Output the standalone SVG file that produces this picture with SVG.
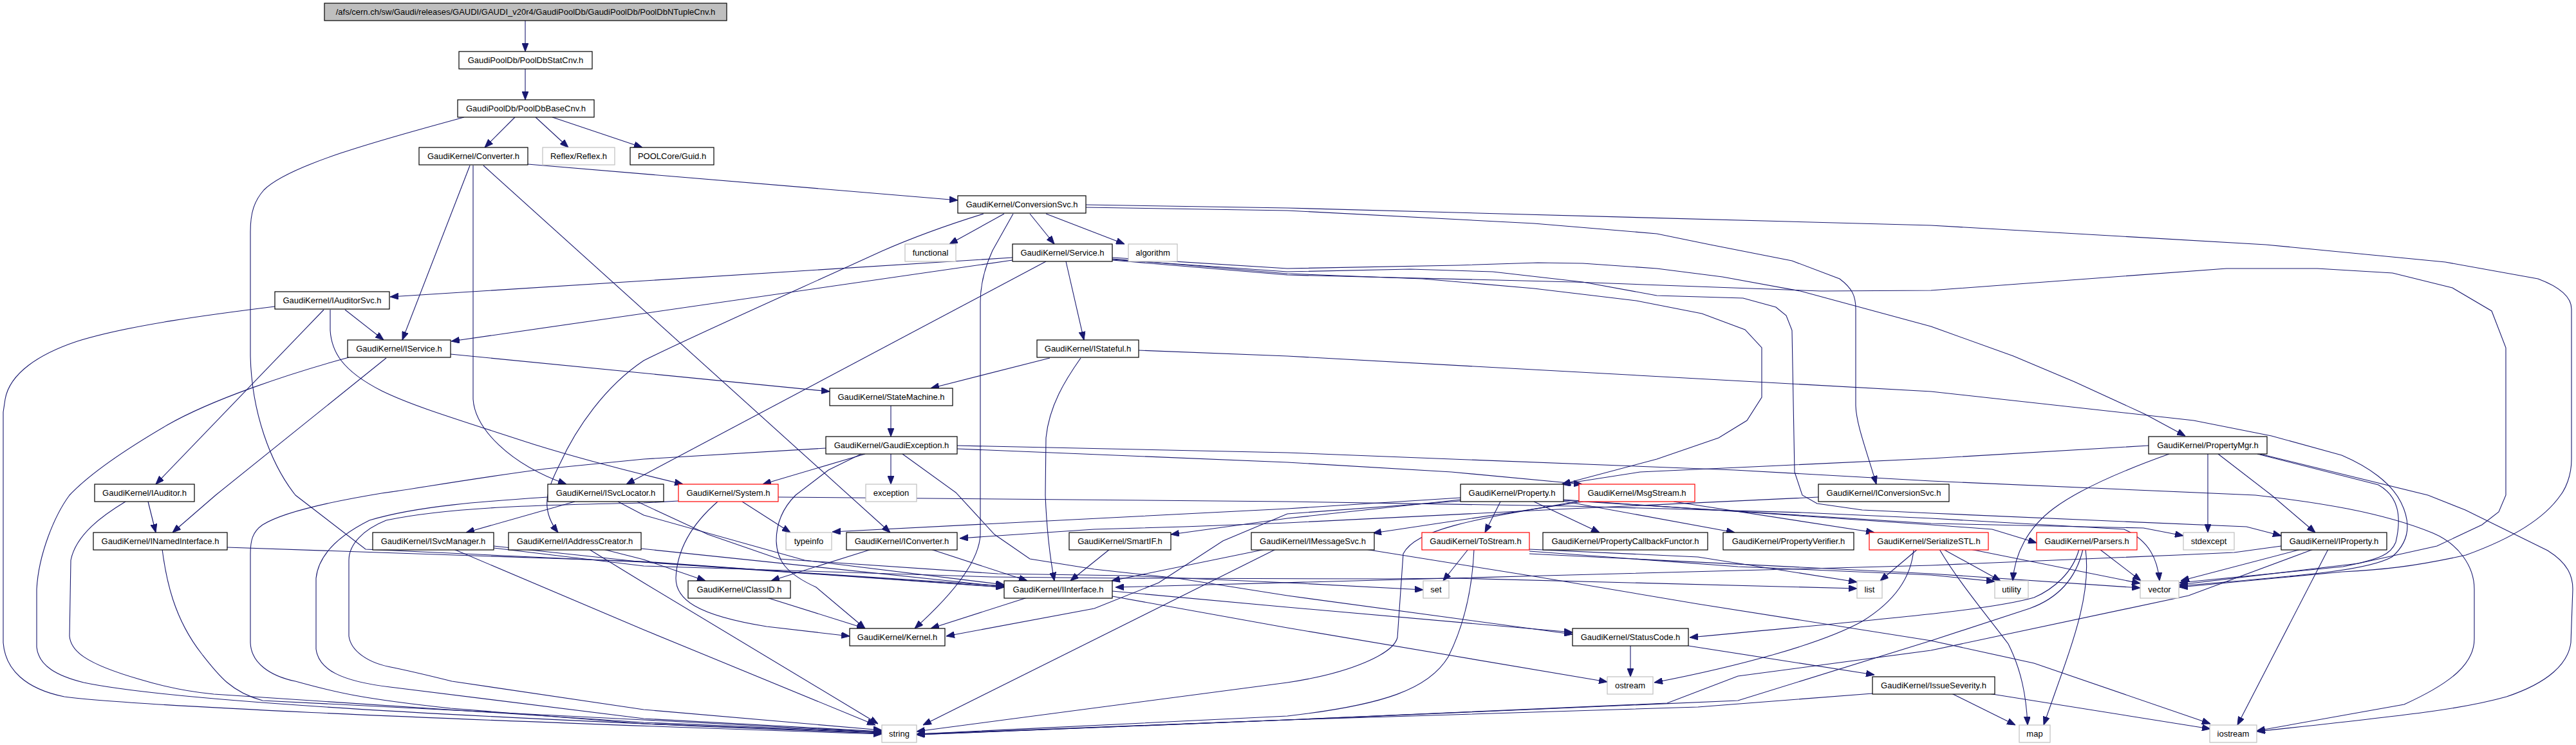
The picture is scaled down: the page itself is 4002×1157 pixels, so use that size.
<svg xmlns="http://www.w3.org/2000/svg" width="4002" height="1157" viewBox="0 0 4002 1157">
<defs>
<marker id="ah" markerUnits="userSpaceOnUse" markerWidth="13" markerHeight="10" refX="13" refY="5" orient="auto">
<path d="M0,0 L13,5 L0,10 z" fill="#191970" stroke="#191970" stroke-width="1"/>
</marker>
<style>
rect{fill:#ffffff;stroke:#000000;stroke-width:1.2}
.g rect{stroke:#bfbfbf}
.r rect{stroke:#ff0000}
.root rect{fill:#bfbfbf}
text{font-family:"Liberation Sans",Arial,Helvetica,sans-serif;font-size:13px;text-anchor:middle;fill:#000000}
#edges path{fill:none;stroke:#191970;stroke-width:1.1;marker-end:url(#ah)}
</style>
</defs>
<rect x="0" y="0" width="4002" height="1157" style="fill:#ffffff;stroke:none"/>
<g id="edges">
<path d="M816,32 L816,80"/>
<path d="M816,107 L816,155"/>
<path d="M800,182 L753,229"/>
<path d="M832,182 L883,229"/>
<path d="M858,182 L998,229"/>
<path d="M721,182 C600,215 450,255 410,295 C395,312 389,330 389,360 L389,553 C391,640 420,720 459,769 L568,853 L1000,873 L1560,912"/>
<path d="M820,255 L1488,311"/>
<path d="M730,257 L625,528"/>
<path d="M735,257 L735,620 C738,665 790,720 880,752"/>
<path d="M751,257 L1383,827"/>
<path d="M1528,332 C1470,350 1420,368 1370,390 C1250,445 1080,520 1000,560 C940,600 895,665 870,720 C850,760 838,790 867,827"/>
<path d="M1560,332 L1475,379"/>
<path d="M1574,332 L1542,389 C1530,415 1523,440 1523,470 L1523,830 C1522,860 1500,905 1421,976"/>
<path d="M1600,332 L1638,379"/>
<path d="M1625,332 L1747,379"/>
<path d="M1687,322 L2000,327 L2383,347 L2574,363 L2657,380 L2784,405 L2858,433 C2878,448 2883,460 2883,480 L2883,630 C2884,660 2900,700 2915,752"/>
<path d="M1687,318 L2000,323 L3000,350 L3520,380 L3799,407 L3943,433 C3975,445 3995,460 3995,480 L3995,713 C3995,740 3985,760 3978,769 C3960,795 3920,830 3831,862 C3750,880 3700,885 3639,888 L3386,912"/>
<path d="M1573,400 L606,461"/>
<path d="M1573,404 L701,530"/>
<path d="M1625,406 L973,752"/>
<path d="M1656,406 L1684,528"/>
<path d="M1728,400 L2000,417 L2265,412 L2389,408 L2459,409 L2574,417 L2676,430 L2797,452 L3000,507 L3128,553 L3223,593 L3332,643 L3395,677"/>
<path d="M1728,402 L2000,425 L2210,433 L2383,448 L2542,467 L2644,487 L2711,512 L2737,540 L2737,617 L2714,653 L2670,680 L2574,713 L2427,752"/>
<path d="M1728,404 L2000,427 L2446,438 L2829,452 L3000,451 L3459,417 L3600,417 L3717,424 L3810,447 L3871,483 L3893,540 L3893,769 L3882,795 L3856,815 L3786,848 L3664,875 L3386,908"/>
<path d="M1728,403 L2000,422 L2191,418 L2319,422 L2459,438 L2574,459 L2708,463 L2759,477 L2775,490 L2784,513 L2788,733 L2800,769 L2823,782 L2893,792 L3000,797 L3300,810 L3490,818 L3544,832"/>
<path d="M503,481 L242,752"/>
<path d="M536,481 L596,528"/>
<path d="M427,476 C330,488 200,505 120,530 C60,550 15,580 8,620 L5,640 L5,998 C8,1040 40,1070 100,1082 C200,1095 600,1115 1370,1140"/>
<path d="M513,481 L513,513 C515,545 530,575 593,607 C640,630 700,648 829,690 C900,712 960,728 1061,752"/>
<path d="M600,556 L335,769 L268,827"/>
<path d="M542,555 C450,580 330,620 260,660 C200,695 140,735 108,769 C85,800 60,860 57,915 L57,1005 C60,1035 90,1050 130,1060 C250,1085 600,1110 1370,1139"/>
<path d="M700,550 L1289,608"/>
<path d="M1631,556 L1446,603"/>
<path d="M1679,556 C1655,590 1630,630 1625,680 L1624,769 C1626,820 1632,870 1638,902"/>
<path d="M1769,544 L2000,553 L3000,608 L3408,653 L3529,677 L3638,707 C3680,725 3715,750 3730,780 C3745,810 3745,840 3716,865 C3680,885 3600,892 3386,910"/>
<path d="M1384,630 L1384,678"/>
<path d="M1344,705 L1185,752"/>
<path d="M1384,705 L1384,752"/>
<path d="M1283,696 L1000,713 L848,728 C720,745 640,760 593,766 C520,778 440,795 408,815 C392,826 389,840 389,860 L389,998 C390,1030 420,1050 459,1058 C520,1075 560,1085 700,1100 L1000,1124 L1370,1138"/>
<path d="M1338,705 L1287,730 L1236,769 C1215,790 1206,815 1206,840 C1207,870 1220,890 1268,912 L1344,976"/>
<path d="M1402,705 L1485,765 L1545,830 L1600,868 L1700,884 L1829,898 L2000,925 L2443,985"/>
<path d="M1487,692 L2000,703 L2695,730 L3000,747 L3504,769 C3600,780 3700,795 3780,828 C3820,845 3844,880 3844,915 L3844,992 C3844,1030 3810,1060 3735,1094 L3506,1135"/>
<path d="M1487,697 L2000,718 L2255,733 L2458,752"/>
<path d="M3338,692 L3000,712 L2765,723 L2548,733 L2426,752"/>
<path d="M3430,704 L3430,827"/>
<path d="M3446,705 L3529,769 L3597,827"/>
<path d="M3370,705 C3300,730 3230,760 3190,790 C3150,820 3130,860 3127,902"/>
<path d="M3507,705 L3695,753 C3725,770 3732,800 3722,842 C3715,860 3700,868 3640,880 L3386,905"/>
<path d="M3511,705 L3772,769 L3830,792 L3958,855 C3990,875 3997,895 3997,915 L3994,998 C3990,1030 3960,1060 3894,1082 C3830,1100 3767,1108 3506,1136"/>
<path d="M230,779 L242,827"/>
<path d="M195,779 C160,800 118,830 110,870 L108,988 C110,1010 130,1030 217,1055 C260,1068 300,1075 332,1078 L1000,1122 L1370,1137"/>
<path d="M893,779 L724,827"/>
<path d="M851,772 C760,778 650,785 574,808 C530,830 495,860 491,898 L491,1008 C495,1040 530,1058 606,1067 L1000,1116 L1370,1136"/>
<path d="M1054,778 L1000,781 C850,784 700,787 600,808 C565,822 542,845 542,870 L542,988 C545,1010 570,1030 612,1037 C650,1045 690,1055 702,1058 L1000,1102 L1370,1134"/>
<path d="M960,779 L1000,800 L1250,870 L1560,908"/>
<path d="M990,779 L1100,830 L1210,868 L1550,891 L1750,894 L2000,905 L2211,916"/>
<path d="M705,853 L1000,978 L1360,1126"/>
<path d="M767,848 L1000,873 L1560,910"/>
<path d="M767,851 L1000,879 L1540,896 L1750,898 L2150,899 L2260,898 L2885,914"/>
<path d="M915,853 L1000,905 L1364,1124"/>
<path d="M937,853 L1000,869 L1096,902"/>
<path d="M996,852 L1560,911"/>
<path d="M353,850 L1000,872 L1560,912"/>
<path d="M252,853 C258,900 270,960 313,1015 C340,1050 360,1075 408,1088 L1000,1118 L1370,1137"/>
<path d="M1153,779 L1228,827"/>
<path d="M1115,779 C1085,805 1052,845 1050,898 C1050,930 1080,955 1191,973 L1320,988"/>
<path d="M1209,772 L2000,779 L2440,786 L2800,796 L3000,805 L3300,822 C3340,840 3352,870 3355,902"/>
<path d="M2331,779 L2307,827"/>
<path d="M2383,779 L2485,827"/>
<path d="M2427,778 L2695,827"/>
<path d="M2429,776 L3000,815 L3095,822 L3164,843"/>
<path d="M2429,777 L3000,813 L3330,820 L3392,832"/>
<path d="M2269,773 L2000,790 L1293,826"/>
<path d="M2269,776 L2000,805 L1819,830"/>
<path d="M2269,778 L2000,798 L1900,840 L1800,905 L1700,945 L1470,988"/>
<path d="M2460,779 L2133,828"/>
<path d="M2450,779 C2300,805 2200,820 2180,860 L2171,990 C2165,1015 2100,1045 2000,1060 L1424,1136"/>
<path d="M2600,779 L2912,827"/>
<path d="M2121,853 L2383,895 L2638,938 L3000,995 L3160,1030 L3434,1124"/>
<path d="M2825,772 L2440,790 L2000,812 L1840,818 L1700,822 L1491,836"/>
<path d="M3544,848 L3471,858 L3383,862 L3000,878 L2400,894 L1733,912"/>
<path d="M3575,853 L3388,902"/>
<path d="M3594,853 L3400,925 L3000,1010 L2700,1050 L2590,1092 L2000,1118 L1424,1141"/>
<path d="M3617,853 L3476,1126"/>
<path d="M3262,853 L3326,902"/>
<path d="M3240,853 C3250,930 3215,1010 3175,1126"/>
<path d="M3230,853 C3220,890 3190,915 3160,928 C3100,945 3000,955 2625,990"/>
<path d="M3236,853 C3225,900 3195,930 3153,945 L3000,995 L2700,1088 L2000,1118 L1424,1140"/>
<path d="M2979,853 L2921,902"/>
<path d="M3019,853 L3108,902"/>
<path d="M3061,853 L3325,906"/>
<path d="M3013,853 C3040,900 3090,960 3120,1000 C3140,1040 3148,1080 3150,1126"/>
<path d="M2973,853 C2970,890 2950,930 2893,965 C2830,1000 2700,1035 2570,1060"/>
<path d="M2281,853 L2242,902"/>
<path d="M2290,853 C2288,900 2280,960 2250,1020 C2220,1070 2150,1095 2000,1112 L1424,1140"/>
<path d="M2376,853 L2638,865 L2885,904"/>
<path d="M2376,856 L2700,880 L3000,893 L3099,903"/>
<path d="M2376,860 L3000,891 L3325,913"/>
<path d="M2533,1003 L2533,1051"/>
<path d="M2623,1003 L2912,1048"/>
<path d="M3032,1077 L3131,1126"/>
<path d="M3089,1077 L3434,1132"/>
<path d="M2909,1077 L2638,1098 L2000,1118 L1424,1141"/>
<path d="M1596,928 L1446,976"/>
<path d="M1728,918 L2000,943 L2443,982"/>
<path d="M1728,926 L2000,975 L2497,1059"/>
<path d="M1191,928 L1344,976"/>
<path d="M1354,853 L1198,902"/>
<path d="M1446,853 L1596,902"/>
<path d="M1724,853 L1663,902"/>
<path d="M1966,853 L1727,902"/>
<path d="M1982,853 L1434,1126"/>
</g>
<g id="nodes">
<g id="n-PoolDbNTupleCnv" class="root"><rect x="504" y="5" width="625" height="27"/><text x="816.5" y="23">/afs/cern.ch/sw/Gaudi/releases/GAUDI/GAUDI_v20r4/GaudiPoolDb/GaudiPoolDb/PoolDbNTupleCnv.h</text></g>
<g id="n-PoolDbStatCnv"><rect x="713" y="80" width="207" height="27"/><text x="816.5" y="98">GaudiPoolDb/PoolDbStatCnv.h</text></g>
<g id="n-PoolDbBaseCnv"><rect x="711" y="155" width="212" height="27"/><text x="817" y="173">GaudiPoolDb/PoolDbBaseCnv.h</text></g>
<g id="n-Converter"><rect x="651" y="229" width="169" height="27"/><text x="735.5" y="247">GaudiKernel/Converter.h</text></g>
<g id="n-Reflex" class="g"><rect x="843" y="229" width="112" height="27"/><text x="899" y="247">Reflex/Reflex.h</text></g>
<g id="n-Guid"><rect x="979" y="229" width="130" height="27"/><text x="1044" y="247">POOLCore/Guid.h</text></g>
<g id="n-ConversionSvc"><rect x="1488" y="304" width="199" height="27"/><text x="1587.5" y="322">GaudiKernel/ConversionSvc.h</text></g>
<g id="n-functional" class="g"><rect x="1406" y="379" width="79" height="27"/><text x="1445.5" y="397">functional</text></g>
<g id="n-Service"><rect x="1573" y="379" width="155" height="27"/><text x="1650.5" y="397">GaudiKernel/Service.h</text></g>
<g id="n-algorithm" class="g"><rect x="1753" y="379" width="76" height="27"/><text x="1791" y="397">algorithm</text></g>
<g id="n-IAuditorSvc"><rect x="427" y="453" width="178" height="27"/><text x="516" y="471">GaudiKernel/IAuditorSvc.h</text></g>
<g id="n-IService"><rect x="540" y="528" width="160" height="27"/><text x="620" y="546">GaudiKernel/IService.h</text></g>
<g id="n-IStateful"><rect x="1611" y="528" width="158" height="27"/><text x="1690" y="546">GaudiKernel/IStateful.h</text></g>
<g id="n-StateMachine"><rect x="1289" y="603" width="191" height="27"/><text x="1384.5" y="621">GaudiKernel/StateMachine.h</text></g>
<g id="n-GaudiException"><rect x="1283" y="678" width="204" height="27"/><text x="1385" y="696">GaudiKernel/GaudiException.h</text></g>
<g id="n-PropertyMgr"><rect x="3338" y="678" width="184" height="27"/><text x="3430" y="696">GaudiKernel/PropertyMgr.h</text></g>
<g id="n-IAuditor"><rect x="147" y="752" width="155" height="27"/><text x="224.5" y="770">GaudiKernel/IAuditor.h</text></g>
<g id="n-ISvcLocator"><rect x="851" y="752" width="180" height="27"/><text x="941" y="770">GaudiKernel/ISvcLocator.h</text></g>
<g id="n-System" class="r"><rect x="1054" y="752" width="155" height="27"/><text x="1131.5" y="770">GaudiKernel/System.h</text></g>
<g id="n-exception" class="g"><rect x="1345" y="752" width="79" height="27"/><text x="1384.5" y="770">exception</text></g>
<g id="n-Property"><rect x="2269" y="752" width="160" height="27"/><text x="2349" y="770">GaudiKernel/Property.h</text></g>
<g id="n-MsgStream" class="r"><rect x="2453" y="752" width="180" height="27"/><text x="2543" y="770">GaudiKernel/MsgStream.h</text></g>
<g id="n-IConversionSvc"><rect x="2825" y="752" width="203" height="27"/><text x="2926.5" y="770">GaudiKernel/IConversionSvc.h</text></g>
<g id="n-INamedInterface"><rect x="145" y="827" width="208" height="27"/><text x="249" y="845">GaudiKernel/INamedInterface.h</text></g>
<g id="n-ISvcManager"><rect x="579" y="827" width="188" height="27"/><text x="673" y="845">GaudiKernel/ISvcManager.h</text></g>
<g id="n-IAddressCreator"><rect x="790" y="827" width="206" height="27"/><text x="893" y="845">GaudiKernel/IAddressCreator.h</text></g>
<g id="n-typeinfo" class="g"><rect x="1221" y="827" width="71" height="27"/><text x="1256.5" y="845">typeinfo</text></g>
<g id="n-IConverter"><rect x="1315" y="827" width="172" height="27"/><text x="1401" y="845">GaudiKernel/IConverter.h</text></g>
<g id="n-SmartIF"><rect x="1661" y="827" width="158" height="27"/><text x="1740" y="845">GaudiKernel/SmartIF.h</text></g>
<g id="n-IMessageSvc"><rect x="1944" y="827" width="191" height="27"/><text x="2039.5" y="845">GaudiKernel/IMessageSvc.h</text></g>
<g id="n-ToStream" class="r"><rect x="2209" y="827" width="167" height="27"/><text x="2292.5" y="845">GaudiKernel/ToStream.h</text></g>
<g id="n-PropertyCallbackFunctor"><rect x="2397" y="827" width="256" height="27"/><text x="2525" y="845">GaudiKernel/PropertyCallbackFunctor.h</text></g>
<g id="n-PropertyVerifier"><rect x="2677" y="827" width="203" height="27"/><text x="2778.5" y="845">GaudiKernel/PropertyVerifier.h</text></g>
<g id="n-SerializeSTL" class="r"><rect x="2904" y="827" width="185" height="27"/><text x="2996.5" y="845">GaudiKernel/SerializeSTL.h</text></g>
<g id="n-Parsers" class="r"><rect x="3164" y="827" width="156" height="27"/><text x="3242" y="845">GaudiKernel/Parsers.h</text></g>
<g id="n-stdexcept" class="g"><rect x="3392" y="827" width="79" height="27"/><text x="3431.5" y="845">stdexcept</text></g>
<g id="n-IProperty"><rect x="3544" y="827" width="164" height="27"/><text x="3626" y="845">GaudiKernel/IProperty.h</text></g>
<g id="n-ClassID"><rect x="1069" y="902" width="159" height="27"/><text x="1148.5" y="920">GaudiKernel/ClassID.h</text></g>
<g id="n-IInterface"><rect x="1560" y="902" width="168" height="27"/><text x="1644" y="920">GaudiKernel/IInterface.h</text></g>
<g id="n-set" class="g"><rect x="2211" y="902" width="40" height="27"/><text x="2231" y="920">set</text></g>
<g id="n-list" class="g"><rect x="2885" y="902" width="39" height="27"/><text x="2904.5" y="920">list</text></g>
<g id="n-utility" class="g"><rect x="3099" y="902" width="52" height="27"/><text x="3125" y="920">utility</text></g>
<g id="n-vector" class="g"><rect x="3325" y="902" width="60" height="27"/><text x="3355" y="920">vector</text></g>
<g id="n-Kernel"><rect x="1320" y="976" width="148" height="27"/><text x="1394" y="994">GaudiKernel/Kernel.h</text></g>
<g id="n-StatusCode"><rect x="2443" y="976" width="180" height="27"/><text x="2533" y="994">GaudiKernel/StatusCode.h</text></g>
<g id="n-ostream" class="g"><rect x="2497" y="1051" width="71" height="27"/><text x="2532.5" y="1069">ostream</text></g>
<g id="n-IssueSeverity"><rect x="2909" y="1051" width="190" height="27"/><text x="3004" y="1069">GaudiKernel/IssueSeverity.h</text></g>
<g id="n-string" class="g"><rect x="1370" y="1126" width="54" height="27"/><text x="1397" y="1144">string</text></g>
<g id="n-map" class="g"><rect x="3137" y="1126" width="48" height="27"/><text x="3161" y="1144">map</text></g>
<g id="n-iostream" class="g"><rect x="3433" y="1126" width="73" height="27"/><text x="3469.5" y="1144">iostream</text></g>
</g>
</svg>
